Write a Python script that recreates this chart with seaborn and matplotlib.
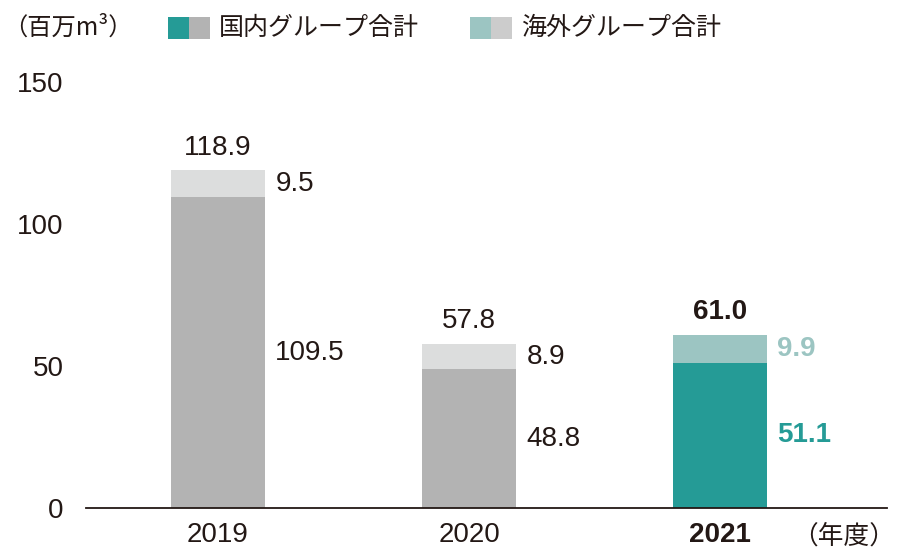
import pandas as pd
import matplotlib.pyplot as plt
import seaborn as sns
from matplotlib.patches import Rectangle

years = ["2019", "2020", "2021"]
domestic = [109.5, 48.8, 51.1]
overseas = [9.5, 8.9, 9.9]
totals = [118.9, 57.8, 61.0]
yticks = [0, 50, 100, 150]

df = pd.DataFrame({"year": years, "domestic": domestic, "overseas": overseas, "total": totals})

dark = "#231815"
dom_colors = {"2019": "#b3b3b3", "2020": "#b3b3b3", "2021": "#259b96"}
ovs_colors = {"2019": "#dcdddd", "2020": "#dcdddd", "2021": "#9cc5c2"}

sns.set_style("white")
plt.rcParams["font.family"] = ["Liberation Sans", "Noto Sans CJK JP"]
plt.rcParams["text.color"] = dark

fig = plt.figure(figsize=(9.2, 5.55), dpi=100)
ax = fig.add_axes([86 / 920, 1 - 508 / 555, 801 / 920, 426 / 555])

# stacked: totals underneath, domestic on top
sns.barplot(data=df, x="year", y="total", hue="year", palette=ovs_colors,
            dodge=False, width=0.375, legend=False, ax=ax, saturation=1,
            linewidth=0)
sns.barplot(data=df, x="year", y="domestic", hue="year", palette=dom_colors,
            dodge=False, width=0.375, legend=False, ax=ax, saturation=1,
            linewidth=0)

ax.set_xlim(-0.526, 2.665)
ax.set_ylim(0, 150)
ax.set_yticks(yticks)
ax.set_yticklabels([str(v) for v in yticks], fontsize=20, color=dark)
ax.set_xticks(range(len(years)))
ax.set_xticklabels(years, fontsize=20, color=dark)
ax.get_xticklabels()[2].set_fontweight("bold")
ax.tick_params(axis="y", length=0, pad=16)
ax.tick_params(axis="x", length=0, pad=10)
ax.set_xlabel("")
ax.set_ylabel("")
for s in ["top", "right", "left"]:
    ax.spines[s].set_visible(False)
ax.spines["bottom"].set_color(dark)
ax.spines["bottom"].set_linewidth(1.3)

for i in range(len(years)):
    bold = i == 2
    w = "bold" if bold else "normal"
    ax.text(i, totals[i] + 8, f"{totals[i]:.1f}", ha="center", va="center",
            fontsize=20, fontweight=w, color=dark)
    ax.text(i + 0.228, domestic[i] + overseas[i] / 2, f"{overseas[i]:.1f}",
            ha="left", va="center", fontsize=20, fontweight=w,
            color=ovs_colors[years[i]] if bold else dark)
    ax.text(i + 0.228, domestic[i] / 2, f"{domestic[i]:.1f}",
            ha="left", va="center", fontsize=20, fontweight=w,
            color=dom_colors[years[i]] if bold else dark)

# header: unit and legend
fig.text(3 / 920, 1 - 28 / 555, "（百万m³）", fontsize=17.5, va="center", ha="left",
         family=["Noto Sans CJK JP", "DejaVu Sans"])
legend_items = [
    (168, "#259b96", "#b3b3b3", "国内グループ合計"),
    (470, "#9cc5c2", "#cccccc", "海外グループ合計"),
]
for x0, c1, c2, label in legend_items:
    fig.add_artist(Rectangle((x0 / 920, 1 - 39 / 555), 21 / 920, 22 / 555,
                             transform=fig.transFigure, color=c1, lw=0))
    fig.add_artist(Rectangle(((x0 + 21) / 920, 1 - 39 / 555), 21 / 920, 22 / 555,
                             transform=fig.transFigure, color=c2, lw=0))
    fig.text((x0 + 51) / 920, 1 - 28 / 555, label, fontsize=18, va="center",
             ha="left", family=["Noto Sans CJK JP", "DejaVu Sans"])

fig.text(792 / 920, 1 - 537 / 555, "（年度）", fontsize=18.5, va="center", ha="left",
         family=["Noto Sans CJK JP", "DejaVu Sans"])

fig.savefig("out.png", dpi=100)
